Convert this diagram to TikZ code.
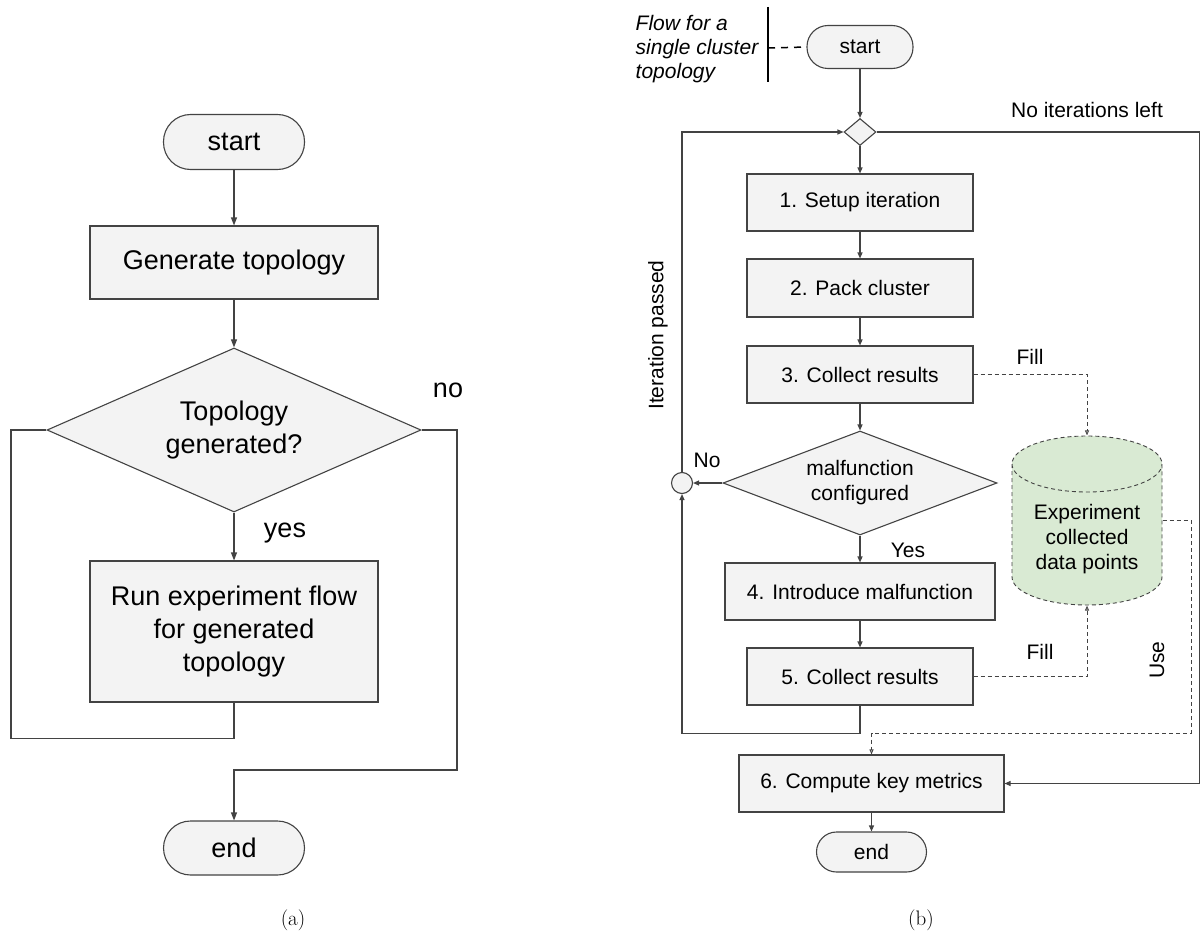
\documentclass[tikz,border=0pt]{standalone}
\usepackage{fontspec}
\setsansfont{Liberation Sans}
\usetikzlibrary{shapes.geometric,arrows.meta}
\definecolor{boxgray}{HTML}{F3F3F3}
\definecolor{linegray}{HTML}{434343}
\definecolor{storegreen}{HTML}{D9EAD3}
\begin{document}
\begin{tikzpicture}[x=1pt,y=-1pt,line width=1.1pt,
    >={Triangle[length=8pt,width=6pt]},
    bigtext/.style={font=\sffamily\fontsize{27}{33}\selectfont},
    smalltext/.style={font=\sffamily\fontsize{21}{25}\selectfont},
    captext/.style={font=\fontsize{21}{25}\selectfont},
    box/.style={draw=linegray,fill=boxgray,inner sep=0pt,align=center},
    terminal/.style={box,rounded corners=#1},
    decision/.style={box,diamond,aspect=2.4},
    junction/.style={box,circle,minimum size=21pt},
    store/.style={smalltext,inner sep=0pt,minimum width=150pt,
      text height=83pt,text depth=86pt},
    flow/.style={dash pattern=on 4pt off 3pt,line width=0.9pt,
      -{Triangle[open,length=5pt,width=4pt]}}
  ]
  \useasboundingbox (0,0) rectangle (1201,939);
  \draw
    (234,142) node[terminal=27pt,bigtext,minimum width=141pt,minimum height=55pt] (startA){start}
    (234,262.5) node[box,bigtext,minimum width=288pt,minimum height=73pt] (genA){Generate topology}
    (234,430) node[decision,bigtext,minimum width=374pt,minimum height=164pt] (checkA){Topology\\generated?}
    (234,631.5) node[box,bigtext,minimum width=288pt,minimum height=141pt] (runA){Run experiment flow\\for generated\\topology}
    (234,848) node[terminal=27pt,bigtext,minimum width=141pt,minimum height=54pt] (endA){end}
    (448,390) node[bigtext] (noA){no}
    (285,533) node[bigtext] (yesA){yes}
    (293,920) node[captext] (capA){(a)};
  \fill[storegreen] (1012,464) -- (1012,577)
    arc[start angle=180,end angle=360,x radius=75pt,y radius=28pt] -- (1162,464)
    arc[start angle=0,end angle=180,x radius=75pt,y radius=28pt] -- cycle;
  \draw[linegray,dash pattern=on 4pt off 3pt,line width=0.9pt] (1012,464) -- (1012,577)
    arc[start angle=180,end angle=360,x radius=75pt,y radius=28pt] -- (1162,464)
    arc[start angle=0,end angle=180,x radius=75pt,y radius=28pt] -- cycle
    (1012,464) arc[start angle=180,end angle=360,x radius=75pt,y radius=28pt];
  \draw
    (860,47) node[terminal=21pt,smalltext,minimum width=106pt,minimum height=43pt] (startB){start}
    (860,132) node[decision,minimum width=32pt,minimum height=27pt] (loopB){}
    (860,202.5) node[box,smalltext,minimum width=226pt,minimum height=57pt] (setupB){1. Setup iteration}
    (860,288) node[box,smalltext,minimum width=226pt,minimum height=58pt] (packB){2. Pack cluster}
    (860,374.5) node[box,smalltext,minimum width=226pt,minimum height=57pt] (collectB){3. Collect results}
    (860,483) node[decision,smalltext,minimum width=274pt,minimum height=104pt] (malB){malfunction\\configured}
    (682,483) node[junction] (joinB){}
    (860,591.5) node[box,smalltext,minimum width=270pt,minimum height=57pt] (introB){4. Introduce malfunction}
    (860,676.5) node[box,smalltext,minimum width=226pt,minimum height=57pt] (recollectB){5. Collect results}
    (871.5,783.5) node[box,smalltext,minimum width=265pt,minimum height=57pt] (metricsB){6. Compute key metrics}
    (871.5,852) node[terminal=20pt,smalltext,minimum width=110pt,minimum height=40pt] (endB){end}
    (1087,520.5) node[store] (storeB){\begin{tabular}[t]{@{}c@{}}Experiment\\collected\\data points\end{tabular}}
    (697,49) node[font=\sffamily\itshape\fontsize{21}{24}\selectfont,align=left] (noteB){Flow for a\\single cluster\\topology}
    (1087,110) node[smalltext] (noIterB){No iterations left}
    (658,335) node[smalltext,rotate=90] (passedB){Iteration passed}
    (707,460) node[smalltext] (noB){No}
    (908,550) node[smalltext] (yesB){Yes}
    (1030,357) node[smalltext] (fillTopB){Fill}
    (1040,652) node[smalltext] (fillBotB){Fill}
    (1157,660) node[smalltext,rotate=90] (useB){Use}
    (921,920) node[captext] (capB){(b)};
  \coordinate (barTop) at (768,7);
  \coordinate (barMid) at (768,48);
  \coordinate (barBot) at (768,82);
  \draw[line width=2pt] (barTop) -- (barBot);
  \draw[line width=1.5pt,dash pattern=on 7pt off 6pt] (barMid) -- (startB.west);
  \begin{scope}[->,draw=linegray]
    \draw (startA) to (genA);
    \draw (genA) to (checkA);
    \draw (checkA) to (runA);
    \draw[-] (runA.south) -- ++(0,36) -| (11,430) -- (checkA.west);
    \draw (checkA.east) -| (457,770) -| (endA.north);
  \end{scope}
  \begin{scope}[->,draw=linegray,>={Triangle[length=6pt,width=5pt]}]
    \draw (startB) to (loopB);
    \draw (loopB) to (setupB);
    \draw (setupB) to (packB);
    \draw (packB) to (collectB);
    \draw (collectB) to (malB);
    \draw (malB) to (introB);
    \draw (introB) to (recollectB);
    \draw (malB) to (joinB);
    \draw (recollectB.south) -- ++(0,28) -| (joinB.south);
    \draw (joinB.north) |- (loopB.west);
    \draw (loopB.east) -| (1199.5,783.5) -- (metricsB.east);
    \draw (metricsB) to (endB);
    \draw[flow] (collectB.east) -| (storeB.north);
    \draw[flow] (recollectB.east) -| (storeB.south);
    \draw[flow] (storeB.east) -| (1191,733) -| (metricsB.north);
  \end{scope}
\end{tikzpicture}
\end{document}
